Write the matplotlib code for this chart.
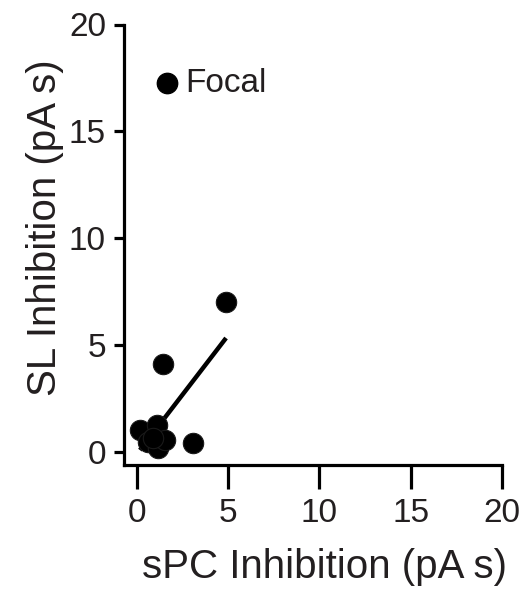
import numpy as np
import matplotlib
matplotlib.use("Agg")
import matplotlib.pyplot as plt

plt.rcParams['font.family'] = ['Liberation Sans', 'DejaVu Sans']

spc = [4.88, 1.41, 3.09, 0.16, 1.08, 0.62, 1.17, 1.53, 0.89]
sl = [7.02, 4.14, 0.43, 1.05, 1.28, 0.5, 0.2, 0.58, 0.66]
focal_x = [1.63]
focal_y = [17.25]
focal_label = "Focal"
ticks = [0, 5, 10, 15, 20]

txt = '#231f20'
fig = plt.figure(figsize=(5.29, 5.90), dpi=100)
ax = fig.add_axes([124/529, (590-464.5)/590, (502-124)/529, (464.5-24.5)/590])

slope, icpt = np.polyfit(spc, sl, 1)
xs = np.array([min(spc), max(spc)])
ax.plot(xs, slope*xs + icpt, color='black', lw=3.2, zorder=2, solid_capstyle='butt')
ax.scatter(spc, sl, s=215, color='black', edgecolors='#1a1a1a', linewidths=0.8, zorder=3)
ax.scatter(focal_x, focal_y, s=215, color='black', zorder=3)
ax.annotate(focal_label, (focal_x[0], focal_y[0]), xytext=(13, 0), textcoords='offset points',
            va='center', ha='left', fontsize=24, color=txt)

ax.set_xlim(-0.712, 20)
ax.set_ylim(-0.561, 20)
ax.set_xticks(ticks)
ax.set_yticks(ticks)
ax.tick_params(labelsize=24, width=2.3, direction='out', labelcolor=txt)
ax.tick_params(axis='x', length=17, pad=7)
ax.tick_params(axis='y', length=7, pad=6)
for s in ['top', 'right']:
    ax.spines[s].set_visible(False)
for s in ['left', 'bottom']:
    ax.spines[s].set_linewidth(2.3)
ax.spines['left'].set_bounds(-0.561, 20)
ax.spines['bottom'].set_bounds(-0.712, 20)
ax.set_xlabel("sPC Inhibition (pA s)", fontsize=29, color=txt)
ax.set_ylabel("SL Inhibition (pA s)", fontsize=29, color=txt)
ax.xaxis.set_label_coords(0.53, -0.19)
ax.yaxis.set_label_coords(-0.159, 0.539)
fig.savefig("out.png", dpi=100)
